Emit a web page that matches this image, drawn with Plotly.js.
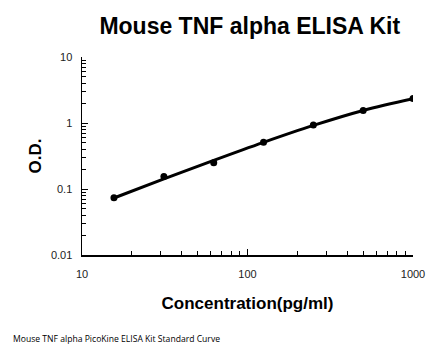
<!DOCTYPE html>
<html>
<head>
<meta charset="utf-8">
<script src="https://cdn.plot.ly/plotly-3.0.1.min.js"></script>
<style>html,body{margin:0;padding:0;background:#fff;}#chart{width:446px;height:356px;}</style>
</head>
<body>
<div id="chart"></div>
<script>
const concentration = [15.6, 31.25, 62.5, 125, 250, 500, 1000];
const od = [0.074, 0.155, 0.25, 0.51, 0.93, 1.55, 2.35];
const fittedOd = [0.073, 0.142, 0.272, 0.51, 0.92, 1.55, 2.33];
const yTickVals = [0.01, 0.1, 1, 10];
const yTickText = ["0.01", "0.1", "1", "10"];
const xTickVals = [10, 100, 1000];
const xTickText = ["10", "100", "1000"];

function minorTicks(lo, hi) {
  const out = [];
  for (let d = lo; d < hi; d *= 10) for (let k = 2; k <= 9; k++) out.push(d * k);
  return out;
}

const curve = {
  x: concentration, y: fittedOd, type: 'scatter', mode: 'lines',
  line: {color: '#000', width: 3, shape: 'spline', smoothing: 1},
  hoverinfo: 'none'
};
const points = {
  x: concentration, y: od, type: 'scatter', mode: 'markers',
  marker: {color: '#000', size: 7},
  hoverinfo: 'none'
};

const axisBase = {
  type: 'log', showgrid: false, zeroline: false, showline: true,
  linecolor: '#000', linewidth: 1.5, ticks: 'inside', ticklen: 6, tickwidth: 1, tickcolor: '#000',
  tickfont: {family: 'Liberation Sans, Arial', size: 11, color: '#222'},
  mirror: false
};

const layout = {
  width: 446, height: 356,
  margin: {l: 82, r: 33, t: 57, b: 101},
  paper_bgcolor: '#fff', plot_bgcolor: '#fff',
  showlegend: false,
  title: {text: '<b>Mouse TNF alpha ELISA Kit</b>', x: 0.56, xanchor: 'center', y: 0.928, yanchor: 'middle',
    font: {family: 'Liberation Sans, Arial', size: 23, color: '#000'}},
  xaxis: Object.assign({}, axisBase, {
    range: [1, 3], tickvals: xTickVals, ticktext: xTickText, ticklabelstandoff: 8,
    minor: {tickvals: minorTicks(10, 1000), ticks: 'inside', ticklen: 4, tickcolor: '#000'},
    title: {text: '<b>Concentration(pg/ml)</b>', standoff: 18, font: {family: 'Liberation Sans, Arial', size: 17, color: '#000'}}
  }),
  yaxis: Object.assign({}, axisBase, {
    range: [-2, 1], tickvals: yTickVals, ticktext: yTickText, ticklabelstandoff: 6,
    minor: {tickvals: minorTicks(0.01, 10), ticks: 'inside', ticklen: 4, tickcolor: '#000'},
    title: {text: '<b>O.D.</b>', standoff: 5, font: {family: 'Liberation Sans, Arial', size: 17, color: '#000'}}
  }),
  annotations: [{
    text: 'Mouse TNF alpha PicoKine ELISA Kit Standard Curve', xref: 'paper', yref: 'paper',
    x: -82/381, y: -84/198, xanchor: 'left', yanchor: 'middle', showarrow: false,
    font: {family: 'Open Sans', size: 8.6, color: '#000'}
  }]
};

Plotly.newPlot('chart', [curve, points], layout, {staticPlot: true, displayModeBar: false});
</script>
</body>
</html>
